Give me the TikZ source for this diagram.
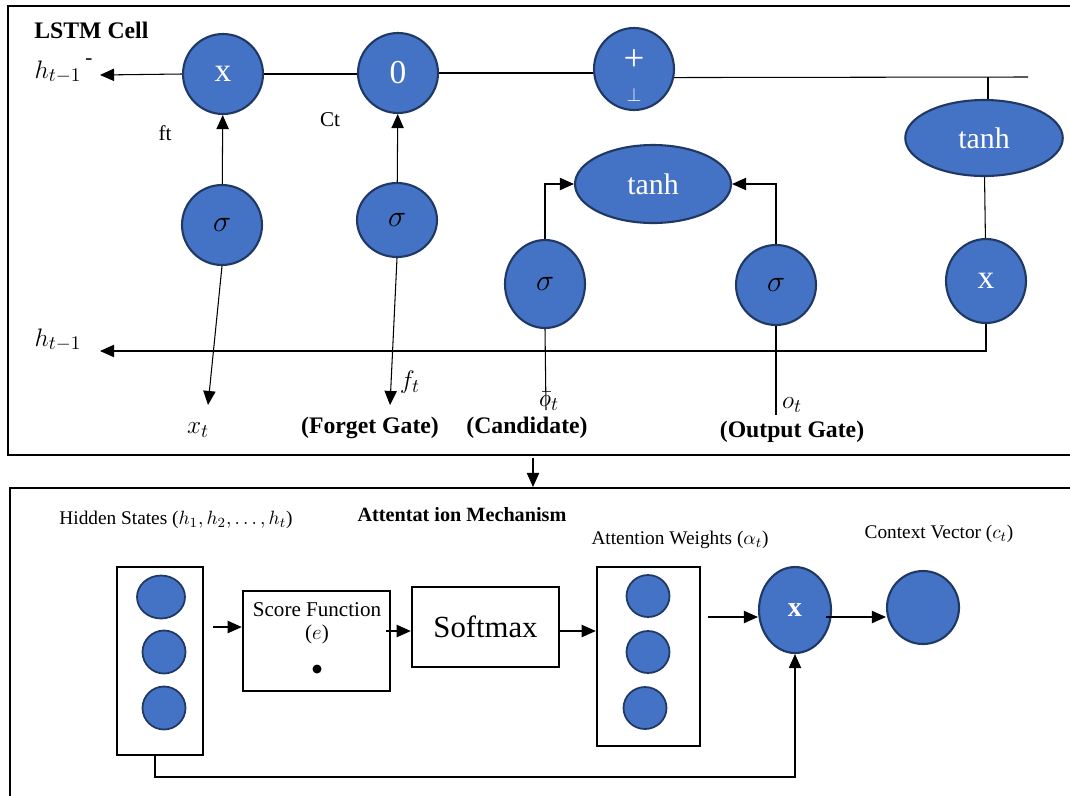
\documentclass[tikz,border=0pt]{standalone}
\usepackage{fontspec}
\setmainfont{Liberation Serif}
\usetikzlibrary{shapes.geometric,arrows.meta}
\definecolor{gateblue}{HTML}{4472C4}
\definecolor{gateedge}{HTML}{1F3864}
\tikzset{
  gate/.style={ellipse, fill=gateblue, draw=gateedge, line width=1.2pt, inner sep=0pt, text=white},
  sig/.style={gate, text=black, font=\fontsize{17}{19}\selectfont},
  dotc/.style={gate, line width=1pt},
  box/.style={draw, line width=1.4pt, inner sep=0pt},
  frame/.style={line width=1.4pt},
  wire/.style={line width=0.6pt},
  arr/.style={wire, -{Triangle[length=8pt,width=7pt]}},
  lbl/.style={font=\fontsize{12}{14}\selectfont, inner sep=0pt},
  mlbl/.style={font=\fontsize{15}{17}\selectfont, inner sep=0pt},
  hdr/.style={font=\bfseries\fontsize{13.5}{15}\selectfont, inner sep=0pt},
}
\begin{document}
\begin{tikzpicture}[x=0.02cm, y=-0.02cm]
\useasboundingbox (0,0) rectangle (1070,795);
% LSTM cell
\draw[frame] (8,6) rectangle (1090,455);
\node[hdr, anchor=west] (lstmTitle) at (34,30) {LSTM Cell};
\node[gate, minimum width=1.6cm, minimum height=1.6cm, font=\fontsize{19}{21}\selectfont] (mulF) at (223,74) {x}; % forget x
\node[gate, minimum width=1.6cm, minimum height=1.6cm, font=\fontsize{19}{21}\selectfont] (mulC) at (398,73) {0};
\node[gate, minimum width=1.6cm, minimum height=1.64cm] (addC) at (634,69) {}; % plus
\node[text=white, font=\fontsize{21}{22}\selectfont, inner sep=0pt] (addTop) at (634,60) {+};
\node[text=white, font=\fontsize{11}{12}\selectfont, inner sep=0pt] (addBot) at (634,95) {$\perp$};
\node[gate, minimum width=3.15cm, minimum height=1.52cm, font=\fontsize{17}{19}\selectfont] (tanhC) at (984,138) {tanh};
\node[gate, minimum width=1.6cm, minimum height=1.68cm, font=\fontsize{19}{21}\selectfont] (mulH) at (986,281) {x};
\node[sig, minimum width=1.6cm, minimum height=1.6cm] (sigF) at (222,225) {$\sigma$};
\node[sig, minimum width=1.6cm, minimum height=1.48cm] (sigI) at (397,220) {$\sigma$};
\node[sig, minimum width=1.6cm, minimum height=1.76cm] (sigC) at (545,284) {$\sigma$};
\node[sig, minimum width=1.6cm, minimum height=1.6cm] (sigO) at (776,285) {$\sigma$};
\node[gate, minimum width=3.12cm, minimum height=1.56cm, font=\fontsize{17}{19}\selectfont] (tanhM) at (653,184) {tanh};
% lstm labels
\node[mlbl] (hOut) at (58,72) {$h_{t-1}$};
\node[lbl] (hOutDash) at (89,62) {-};
\node[mlbl] (hIn) at (58,340) {$h_{t-1}$};
\node[lbl] (ftLbl) at (165,133) {ft};
\node[lbl] (ctLbl) at (330,120) {Ct};
\node[mlbl] (xtLbl) at (198,430) {$x_t$};
\node[mlbl] (ftSym) at (410,382) {$f_t$};
\node[mlbl] (obLbl) at (549,401) {$\bar{o}_t$};
\node[mlbl] (otLbl) at (792,405) {$o_t$};
\node[hdr] (forgetLbl) at (370,428) {(Forget Gate)};
\node[hdr] (candLbl) at (527,428) {(Candidate)};
\node[hdr] (outLbl) at (792,432) {(Output Gate)};
\coordinate (hOutEnd) at (100,75);
\coordinate (cEnd) at (1028,77);
\coordinate (tapC) at (988,77);
\coordinate (hInEnd) at (100,351);
\coordinate (xIn) at (208,405);
\coordinate (fIn) at (390,405);
\coordinate (oBarIn) at (546,410);
\coordinate (oIn) at (776,415);
\draw[arr] (mulF.west) -- (hOutEnd);
\draw[wire] (mulF.east) -- (mulF.east -| mulC.west);
\draw[wire] (mulC.east) -- (mulC.east -| addC.west);
\draw[wire] (addC.-12) -- (cEnd);
\draw[wire] (tapC) -- (tapC |- tanhC.north);
\draw[wire] (tanhC) -- (mulH);
\draw[arr] (mulH.south) |- (hInEnd);
\draw[arr] (sigF) -- (mulF);
\draw[arr] (sigF.south) -- (xIn);
\draw[arr] (sigI) -- (mulC);
\draw[arr] (sigI.south) -- (fIn);
\draw[arr] (sigC.north) |- (tanhM.west);
\draw[arr] (sigO.north) |- (tanhM.east);
\draw[wire] (sigC.south) -- (oBarIn);
\draw[wire] (sigO.south) -- (oIn);
% between
\coordinate (lstmOut) at (533,458);
\coordinate (attIn) at (533,487);
\draw[arr] (lstmOut) -- (attIn);
% attention
\draw[frame] (10,488) rectangle (1090,820);
\node[lbl, font=\fontsize{11}{13}\selectfont] (hidLbl) at (176,520) {Hidden States ($h_1, h_2, \ldots, h_t$)};
\node[hdr, font=\bfseries\fontsize{11.5}{13}\selectfont] (attTitle) at (462,515) {Attentat ion Mechanism};
\node[lbl, font=\fontsize{11}{13}\selectfont] (wLbl) at (680,540) {Attention Weights ($\alpha_t$)};
\node[lbl, font=\fontsize{11}{13}\selectfont] (cLbl) at (939,534) {Context Vector ($c_t$)};
\node[box, minimum width=1.72cm, minimum height=3.76cm] (hidBox) at (160,661) {};
\node[dotc, minimum width=0.96cm, minimum height=0.86cm] (hid1) at (161,597) {};
\node[dotc, minimum width=0.86cm, minimum height=0.86cm] (hid2) at (164,652) {};
\node[dotc, minimum width=0.86cm, minimum height=0.86cm] (hid3) at (164,708) {};
\node[box, minimum width=2.94cm, minimum height=2cm] (scoreBox) at (316.5,641) {};
\node[lbl] (scoreTxt) at (317,610) {Score Function};
\node[lbl] (scoreE) at (317,634) {($e$)};
\node[circle, fill, inner sep=0pt, minimum size=0.18cm] (scoreDot) at (317,669) {};
\node[box, minimum width=2.94cm, minimum height=1.6cm, font=\fontsize{17.5}{19}\selectfont] (softBox) at (485.5,627) {Softmax};
\node[box, minimum width=2.06cm, minimum height=3.58cm] (attBox) at (648.5,656.5) {};
\node[dotc, minimum width=0.86cm, minimum height=0.84cm] (att1) at (648,596) {};
\node[dotc, minimum width=0.86cm, minimum height=0.84cm] (att2) at (648,652) {};
\node[dotc, minimum width=0.86cm, minimum height=0.84cm] (att3) at (645,708) {};
\node[gate, minimum width=1.44cm, minimum height=1.72cm, font=\bfseries\fontsize{16}{18}\selectfont] (mulA) at (795,610) {x};
\node[gate, minimum width=1.44cm, minimum height=1.46cm] (ctxVec) at (923,607.5) {};
\coordinate (hidOut) at (213,627);
\coordinate (scoreOut) at (386,631);
\coordinate (softOut) at (560,631);
\coordinate (attOut) at (708,617);
\coordinate (mulOut) at (826,617);
\coordinate (loopL) at (155,777);
\draw[arr] (hidOut) -- (hidOut -| scoreBox.west);
\draw[arr] (scoreOut) -- (scoreOut -| softBox.west);
\draw[arr] (softOut) -- (softOut -| attBox.west);
\draw[arr] (attOut) -- (attOut -| mulA.west);
\draw[arr] (mulOut) -- (mulOut -| ctxVec.west);
\draw[arr] (loopL |- hidBox.south) -- (loopL) -| (mulA.south);
\end{tikzpicture}
\end{document}
